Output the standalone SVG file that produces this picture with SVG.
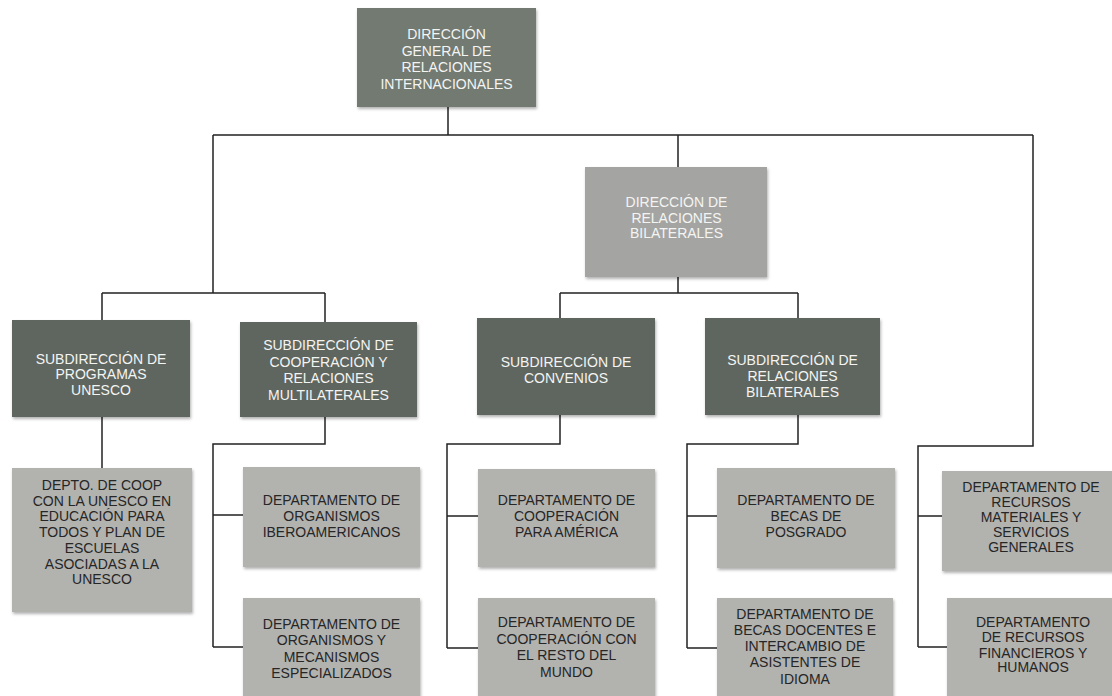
<svg xmlns="http://www.w3.org/2000/svg" width="1112" height="696" viewBox="0 0 1112 696">
<defs>
<filter id="sh" x="-5%" y="-5%" width="112%" height="115%">
<feDropShadow dx="1" dy="2" stdDeviation="1.5" flood-color="#000" flood-opacity="0.3"/>
</filter>
</defs>
<style>
.box{filter:url(#sh);}
.top{fill:#727a72;}
.mid{fill:#a4a5a2;}
.sub{fill:#5e665f;}
.dep{fill:#b2b2af;}
text{font-family:"Liberation Sans",Arial,sans-serif;font-size:14px;text-anchor:middle;}
.lt{fill:#f4f4f2;}
.dk{fill:#262626;}
.conn{stroke:#222;stroke-width:1.5;fill:none;}
</style>
<rect width="1112" height="696" fill="#ffffff"/>
<g id="connectors" class="conn">
<path d="M448 107V135M213 135H1033M678 135V167M213 135V293M102 293H325M102 293V320M325 293V322"/>
<path d="M678 277V293M560 293H798M560 293V318M798 293V318"/>
<path d="M1033 135V446H918V647M918 516H942M918 647H947"/>
<path d="M102 417V468"/>
<path d="M325 417V444H213V647M213 515H243M213 647H243"/>
<path d="M560 415V444H447V648M447 516H478M447 648H478"/>
<path d="M798 415V444H687V648M687 516H717M687 648H717"/>
</g>
<g id="n-top"><rect class="box top" x="357" y="8" width="179" height="99"/>
<text class="lt"><tspan x="446.5" y="39">DIRECCIÓN</tspan><tspan x="446.5" y="55.5">GENERAL DE</tspan><tspan x="446.5" y="72">RELACIONES</tspan><tspan x="446.5" y="88.5">INTERNACIONALES</tspan></text></g>
<g id="n-bilat"><rect class="box mid" x="585" y="167" width="182" height="110"/>
<text class="lt"><tspan x="676.5" y="207">DIRECCIÓN DE</tspan><tspan x="676.5" y="222.5">RELACIONES</tspan><tspan x="676.5" y="238">BILATERALES</tspan></text></g>
<g id="n-sub1"><rect class="box sub" x="12" y="320" width="178" height="97"/>
<text class="lt"><tspan x="101" y="363.5">SUBDIRECCIÓN DE</tspan><tspan x="101" y="379">PROGRAMAS</tspan><tspan x="101" y="394.5">UNESCO</tspan></text></g>
<g id="n-sub2"><rect class="box sub" x="240" y="322" width="177" height="95"/>
<text class="lt"><tspan x="328.5" y="350">SUBDIRECCIÓN DE</tspan><tspan x="328.5" y="366.5">COOPERACIÓN Y</tspan><tspan x="328.5" y="383">RELACIONES</tspan><tspan x="328.5" y="399.5">MULTILATERALES</tspan></text></g>
<g id="n-sub3"><rect class="box sub" x="477" y="318" width="178" height="97"/>
<text class="lt"><tspan x="566" y="367">SUBDIRECCIÓN DE</tspan><tspan x="566" y="382.5">CONVENIOS</tspan></text></g>
<g id="n-sub4"><rect class="box sub" x="705" y="318" width="175" height="97"/>
<text class="lt"><tspan x="792.5" y="365">SUBDIRECCIÓN DE</tspan><tspan x="792.5" y="381">RELACIONES</tspan><tspan x="792.5" y="396.5">BILATERALES</tspan></text></g>
<g id="n-d1"><rect class="box dep" x="12" y="468" width="180" height="144"/>
<text class="dk"><tspan x="102" y="490">DEPTO. DE COOP</tspan><tspan x="102" y="505.7">CON LA UNESCO EN</tspan><tspan x="102" y="521.4">EDUCACIÓN PARA</tspan><tspan x="102" y="537.1">TODOS Y PLAN DE</tspan><tspan x="102" y="552.8">ESCUELAS</tspan><tspan x="102" y="568.5">ASOCIADAS A LA</tspan><tspan x="102" y="584.2">UNESCO</tspan></text></g>
<g id="n-d2"><rect class="box dep" x="243" y="467" width="177" height="100"/>
<text class="dk"><tspan x="331.5" y="505">DEPARTAMENTO DE</tspan><tspan x="331.5" y="521">ORGANISMOS</tspan><tspan x="331.5" y="537">IBEROAMERICANOS</tspan></text></g>
<g id="n-d3"><rect class="box dep" x="243" y="598" width="177" height="102"/>
<text class="dk"><tspan x="331.5" y="628.5">DEPARTAMENTO DE</tspan><tspan x="331.5" y="645">ORGANISMOS Y</tspan><tspan x="331.5" y="661.5">MECANISMOS</tspan><tspan x="331.5" y="678">ESPECIALIZADOS</tspan></text></g>
<g id="n-d4"><rect class="box dep" x="478" y="469" width="177" height="98"/>
<text class="dk"><tspan x="566.5" y="505">DEPARTAMENTO DE</tspan><tspan x="566.5" y="521">COOPERACIÓN</tspan><tspan x="566.5" y="537">PARA AMÉRICA</tspan></text></g>
<g id="n-d5"><rect class="box dep" x="478" y="598" width="177" height="102"/>
<text class="dk"><tspan x="566.5" y="627">DEPARTAMENTO DE</tspan><tspan x="566.5" y="643.5">COOPERACIÓN CON</tspan><tspan x="566.5" y="660">EL RESTO DEL</tspan><tspan x="566.5" y="676.5">MUNDO</tspan></text></g>
<g id="n-d6"><rect class="box dep" x="717" y="468" width="178" height="100"/>
<text class="dk"><tspan x="806" y="505">DEPARTAMENTO DE</tspan><tspan x="806" y="521">BECAS DE</tspan><tspan x="806" y="537">POSGRADO</tspan></text></g>
<g id="n-d7"><rect class="box dep" x="717" y="598" width="176" height="102"/>
<text class="dk"><tspan x="805" y="618.5">DEPARTAMENTO DE</tspan><tspan x="805" y="634.8">BECAS DOCENTES E</tspan><tspan x="805" y="651">INTERCAMBIO DE</tspan><tspan x="805" y="667.3">ASISTENTES DE</tspan><tspan x="805" y="683.6">IDIOMA</tspan></text></g>
<g id="n-d8"><rect class="box dep" x="942" y="471" width="180" height="100"/>
<text class="dk"><tspan x="1031" y="492">DEPARTAMENTO DE</tspan><tspan x="1031" y="507">RECURSOS</tspan><tspan x="1031" y="522">MATERIALES Y</tspan><tspan x="1031" y="537">SERVICIOS</tspan><tspan x="1031" y="552">GENERALES</tspan></text></g>
<g id="n-d9"><rect class="box dep" x="947" y="598" width="175" height="102"/>
<text class="dk"><tspan x="1033" y="627">DEPARTAMENTO</tspan><tspan x="1033" y="642">DE RECURSOS</tspan><tspan x="1033" y="657.5">FINANCIEROS Y</tspan><tspan x="1033" y="672">HUMANOS</tspan></text></g>
</svg>
